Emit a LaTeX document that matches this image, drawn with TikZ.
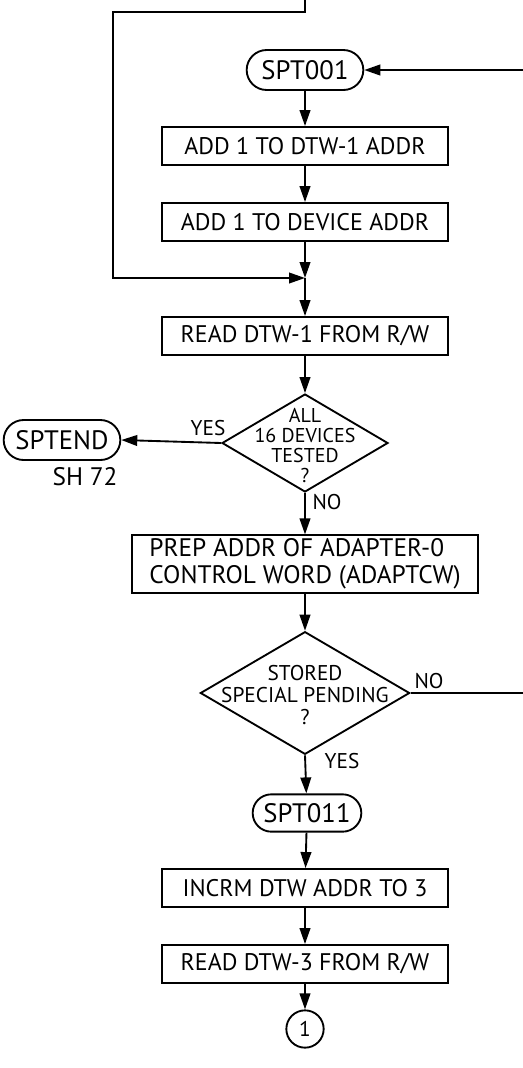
\documentclass[tikz,border=0pt]{standalone}
\usepackage{fontspec}
\setmainfont{PT Sans}
\usetikzlibrary{arrows.meta, shapes.geometric, shapes.misc}

\begin{document}
\begin{tikzpicture}[x=0.75pt, y=-0.75pt, line width=1.4pt,
    every node/.style={font=\fontsize{18}{20}\selectfont},
    box/.style={draw, rectangle, minimum width=215pt, minimum height=28.5pt, inner sep=2pt},
    term/.style={draw, rounded rectangle, minimum width=91.5pt, minimum height=30pt, inner sep=2pt, font=\fontsize{20}{22}\selectfont},
    decide/.style={draw, diamond, inner sep=0pt},
    lbl/.style={font=\fontsize{16}{17}\selectfont},
    arr/.style={-{Triangle[length=12pt, width=8pt]}}]
    \useasboundingbox (0,0) rectangle (523,1068);

    % main column
    \node[term] (spt001) at (305,70) {SPT001};
    \node[box] (dtwaddr) at (305,146) {ADD 1 TO DTW-1 ADDR};
    \node[box] (devaddr) at (305,222) {ADD 1 TO DEVICE ADDR};
    \coordinate (merge) at (305,278);
    \node[box] (readone) at (305,336) {READ DTW-1 FROM R/W};
    \node[decide, minimum width=124.5pt, minimum height=73.5pt] (alltest) at (305,443) {};
    \node[align=center, font=\fontsize{15}{15}\selectfont] (alltesttxt) at (305,446) {ALL\\16 DEVICES\\TESTED\\?};
    \node[term] (sptend) at (62,440) {SPTEND};
    \node[font=\fontsize{19}{20}\selectfont] (sheet) at (85,477) {SH 72};
    \node[box, minimum width=259pt, minimum height=43pt, align=left, font=\fontsize{19}{20}\selectfont] (prep) at (305,564) {PREP ADDR OF ADAPTER-0\\CONTROL WORD (ADAPTCW)};
    \node[decide, minimum width=157pt, minimum height=92pt] (pending) at (305,693) {};
    \node[align=center, font=\fontsize{16}{16.5}\selectfont] (pendingtxt) at (305,695) {STORED\\SPECIAL PENDING\\?};
    \node[term, minimum width=85.5pt, minimum height=28pt] (spt011) at (307,813) {SPT011};
    \node[box] (incrm) at (305,888) {INCRM DTW ADDR TO 3};
    \node[box] (readthree) at (305,964) {READ DTW-3 FROM R/W};
    \node[draw, circle, minimum size=28pt, inner sep=0pt, lbl] (conn) at (305,1029) {1};

    % loop lines
    \coordinate (topin) at (305,-20);
    \coordinate (loopcorner) at (113,12);
    \coordinate (rside) at (545,693);

    \draw[arr] (spt001) -- (dtwaddr);
    \draw[arr] (dtwaddr) -- (devaddr);
    \draw[arr] (devaddr) -- (merge);
    \draw[arr] (topin) |- (loopcorner) |- (merge);
    \draw[arr] (merge) -- (readone);
    \draw[arr] (readone) -- (alltest.north);
    \draw[arr] (alltest.west) -- (sptend.east);
    \draw[arr] (alltest.south) -- (prep);
    \draw[arr] (prep) -- (pending.north);
    \draw[arr] (pending.east) -- (rside) |- (spt001.east);
    \draw[arr] (pending.south) -- (spt011);
    \draw[arr] (spt011) -- (incrm);
    \draw[arr] (incrm) -- (readthree);
    \draw[arr] (readthree) -- (conn);

    % branch labels
    \node[lbl] (yesone) at (208,428) {YES};
    \node[lbl] (noone) at (327,502) {NO};
    \node[lbl] (notwo) at (429,681) {NO};
    \node[lbl] (yestwo) at (342,761) {YES};
\end{tikzpicture}
\end{document}
